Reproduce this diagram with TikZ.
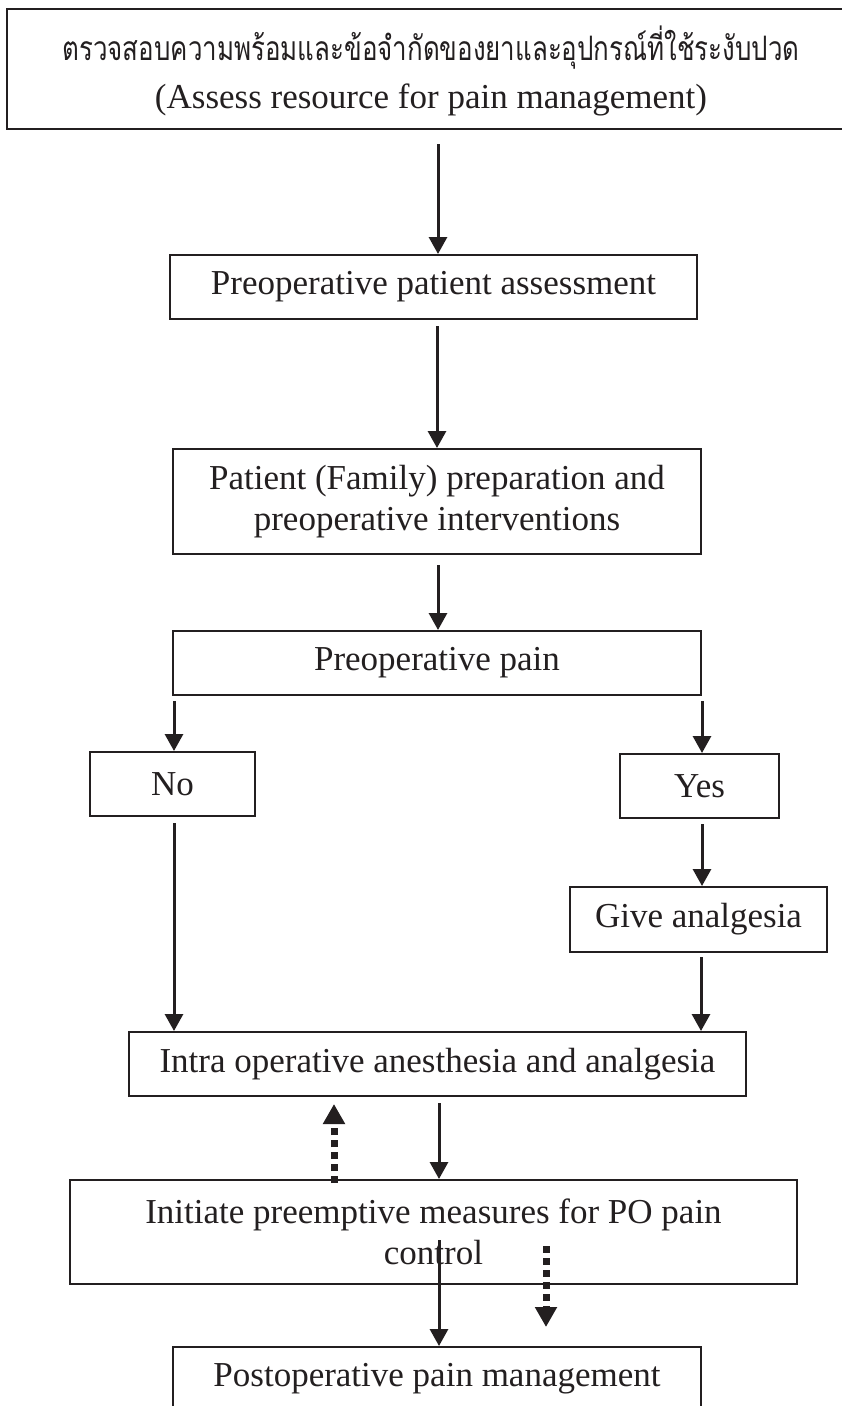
\documentclass[tikz,border=0pt]{standalone}
\usepackage{fontspec}
\setmainfont{Liberation Serif}
\newfontfamily\thaifont[Script=Thai]{Loma}
\usetikzlibrary{arrows.meta}
\definecolor{ink}{HTML}{231F20}
\begin{document}
\begin{tikzpicture}[x=1pt,y=-1pt,
  box/.style={draw=ink, line width=2pt, inner sep=0pt, align=center, text=ink, font=\fontsize{35}{41}\selectfont},
  txt/.style={inner sep=0pt, text=ink, font=\fontsize{35}{41}\selectfont},
  arr/.style={draw=ink, line width=3pt, -{Triangle[width=18pt,length=17pt]}},
  darr/.style={draw=ink, line width=7pt, dash pattern=on 7pt off 5pt, -{Triangle[width=21pt,length=20pt]}}]
\useasboundingbox (0,0) rectangle (842,1406);
\clip (0,0) rectangle (842,1406);
\fill[white] (0,0) rectangle (842,1406);

% boxes
\node[box, minimum width=840pt, minimum height=120pt] (top) at (427,69) {};
\node[txt, anchor=base] (topthai) at (431,60) {\resizebox{737pt}{!}{\scalebox{1}[1.3]{\thaifont ตรวจสอบความพร้อมและข้อจำกัดของยาและอุปกรณ์ที่ใช้ระงับปวด}}};
\node[txt, anchor=base] (topeng) at (431,108) {(Assess resource for pain management)};

\node[box, minimum width=527pt, minimum height=64pt] (assess) at (433.5,287) {Preoperative patient assessment};
\node[box, minimum width=528pt, minimum height=105pt] (prep) at (437,501.5) {Patient (Family) preparation and\\preoperative interventions};
\node[box, minimum width=528pt, minimum height=64pt] (pain) at (437,663) {Preoperative pain};
\node[box, minimum width=165pt, minimum height=64pt] (no) at (172.5,784) {No};
\node[box, minimum width=159pt, minimum height=64pt] (yes) at (699.5,786) {Yes};
\node[box, minimum width=257pt, minimum height=65pt] (give) at (698.5,919.5) {Give analgesia};
\node[box, minimum width=617pt, minimum height=64pt] (intra) at (437.5,1064) {Intra operative anesthesia and analgesia};
\node[box, minimum width=727pt, minimum height=104pt] (init) at (433.5,1232) {Initiate preemptive measures for PO pain\\control};
\node[box, minimum width=528pt, minimum height=64pt] (post) at (437,1379) {Postoperative pain management};

% x positions of connectors
\coordinate (xa) at (438,0);
\coordinate (xb) at (437,0);
\coordinate (xno) at (174,0);
\coordinate (xyes) at (702,0);
\coordinate (xgive) at (701,0);
\coordinate (xc) at (439,0);
\coordinate (xdu) at (334,0);
\coordinate (xdd) at (546,0);

% connectors
\draw[arr, shorten <=14pt] (top.south -| xa) -- (assess.north -| xa);
\draw[arr, shorten <=6pt] (assess.south -| xb) -- (prep.north -| xb);
\draw[arr, shorten <=10pt] (prep.south -| xa) -- (pain.north -| xa);
\draw[arr, shorten <=5pt] (pain.south -| xno) -- (no.north -| xno);
\draw[arr, shorten <=5pt] (pain.south -| xyes) -- (yes.north -| xyes);
\draw[arr, shorten <=6pt] (no.south -| xno) -- (intra.north -| xno);
\draw[arr, shorten <=5pt] (yes.south -| xyes) -- (give.north -| xyes);
\draw[arr, shorten <=4pt] (give.south -| xgive) -- (intra.north -| xgive);
\draw[arr, shorten <=6pt] (intra.south -| xc) -- (init.north -| xc);
\draw[darr, shorten <=-4pt, shorten >=7pt] (init.north -| xdu) -- (intra.south -| xdu);
\draw[arr, shorten <=61pt] (init.north -| xc) -- (post.north -| xc);
\draw[darr, shorten <=67pt, shorten >=19pt] (init.north -| xdd) -- (post.north -| xdd);
\end{tikzpicture}
\end{document}
